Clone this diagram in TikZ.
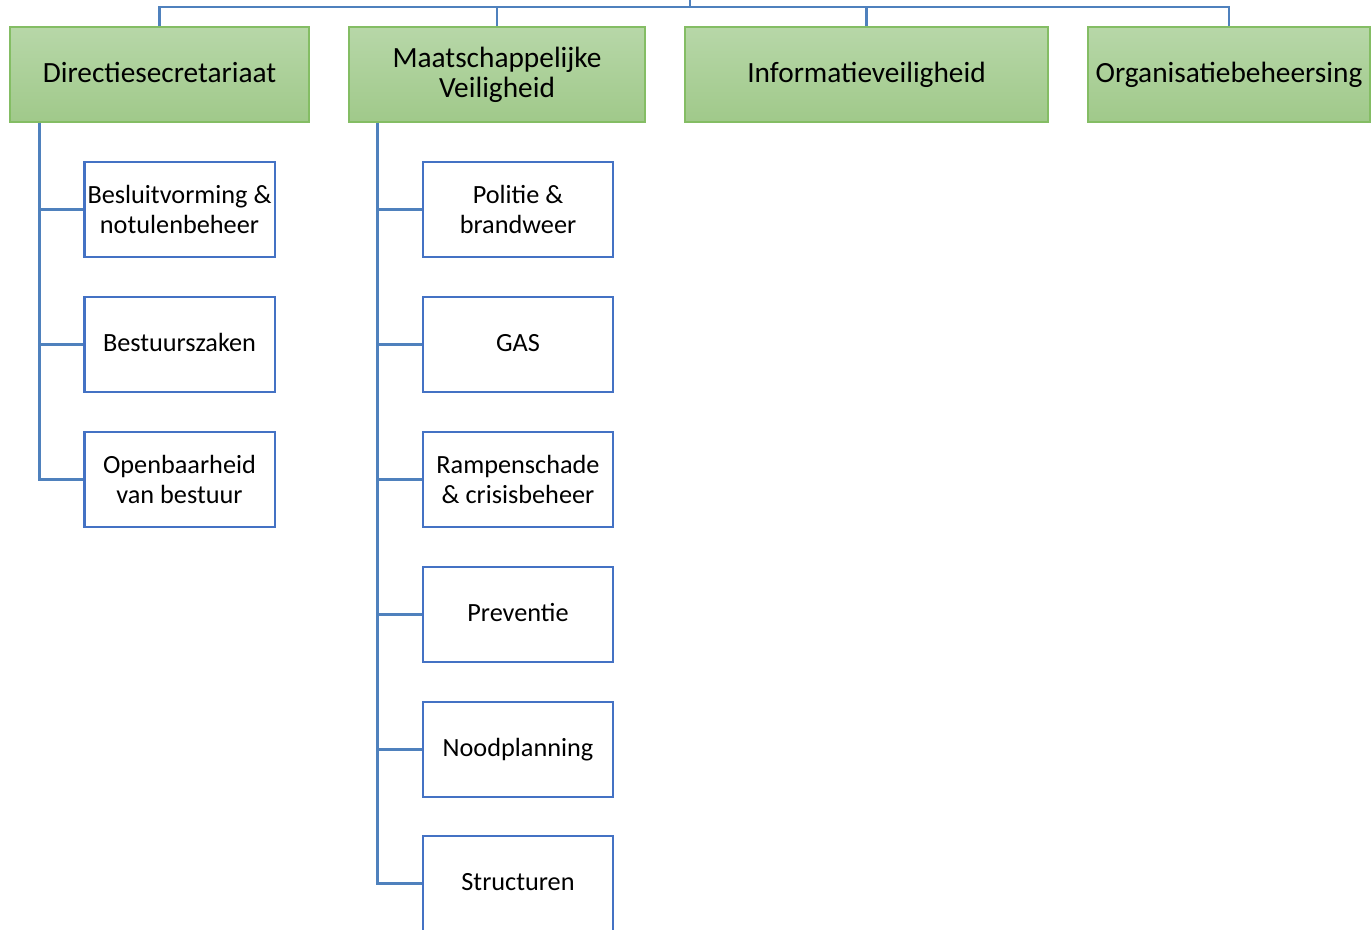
\documentclass[tikz,border=0pt]{standalone}
\usepackage{fontspec}
\setmainfont{Carlito}
\definecolor{gtop}{RGB}{183,215,168}
\definecolor{gbot}{RGB}{160,201,138}
\definecolor{gline}{RGB}{132,189,100}
\definecolor{bbox}{RGB}{68,114,196}
\definecolor{bconn}{RGB}{79,129,189}
\newcommand{\lgph}{\vphantom{lg}}
\tikzset{
  green box/.style={draw=gline, line width=0.8pt, top color=gtop, bottom color=gbot,
    minimum height=71.25pt, inner sep=0pt, align=center,
    font=\fontsize{22}{22.5}\selectfont},
  unit box/.style={draw=bbox, line width=2pt, fill=white,
    minimum width=143pt, minimum height=71.25pt, inner sep=0pt, align=center,
    font=\fontsize{19.7}{22.5}\selectfont},
  conn/.style={draw=bconn, line width=1.8pt}
}
\begin{document}
\begin{tikzpicture}[x=0.75pt,y=-0.75pt]
\useasboundingbox (0,0) rectangle (1371,930);
\clip (0,0) rectangle (1371,930);
% top-level units
\node[green box, minimum width=224.25pt] (D) at (159.5,74.5) {\lgph Directiesecretariaat};
\node[green box, minimum width=222pt] (M) at (497,74.5) {Maatschappelijke\\Veiligheid};
\node[green box, minimum width=272.25pt] (I) at (866.5,74.5) {\lgph Informatieveiligheid};
\node[green box, minimum width=211.5pt] (O) at (1229,74.5) {\lgph Organisatiebeheersing};
% bus
\coordinate (hub) at (690,7);
\coordinate (top) at (690,-10);
\draw[conn] (top) -- (hub);
\draw[conn] (D.north) |- (hub);
\draw[conn] (M.north) |- (hub);
\draw[conn] (I.north) |- (hub);
\draw[conn] (O.north) |- (hub);
% left column
\node[unit box] (B1) at (179.5,209.5) {Besluitvorming \&\\notulenbeheer};
\node[unit box] (B2) at (179.5,344.5) {\lgph Bestuurszaken};
\node[unit box] (B3) at (179.5,479.5) {Openbaarheid\\van bestuur};
\coordinate (sL) at ([xshift=22.5pt]D.south west);
\draw[conn] (sL) |- (B3.west);
\draw[conn] (B1.west) -- (B1.west -| sL);
\draw[conn] (B2.west) -- (B2.west -| sL);
% middle column
\node[unit box, minimum width=142.5pt] (M1) at (518,209.5) {Politie \&\\brandweer};
\node[unit box, minimum width=142.5pt] (M2) at (518,344.5) {\lgph GAS};
\node[unit box, minimum width=142.5pt] (M3) at (518,479.5) {Rampenschade\\\& crisisbeheer};
\node[unit box, minimum width=142.5pt] (M4) at (518,614.5) {\lgph Preventie};
\node[unit box, minimum width=142.5pt] (M5) at (518,749.5) {\lgph Noodplanning};
\node[unit box, minimum width=142.5pt] (M6) at (518,883.5) {\lgph Structuren};
\coordinate (sM) at ([xshift=21.75pt]M.south west);
\draw[conn] (sM) |- (M6.west);
\draw[conn] (M1.west) -- (M1.west -| sM);
\draw[conn] (M2.west) -- (M2.west -| sM);
\draw[conn] (M3.west) -- (M3.west -| sM);
\draw[conn] (M4.west) -- (M4.west -| sM);
\draw[conn] (M5.west) -- (M5.west -| sM);
\end{tikzpicture}
\end{document}
